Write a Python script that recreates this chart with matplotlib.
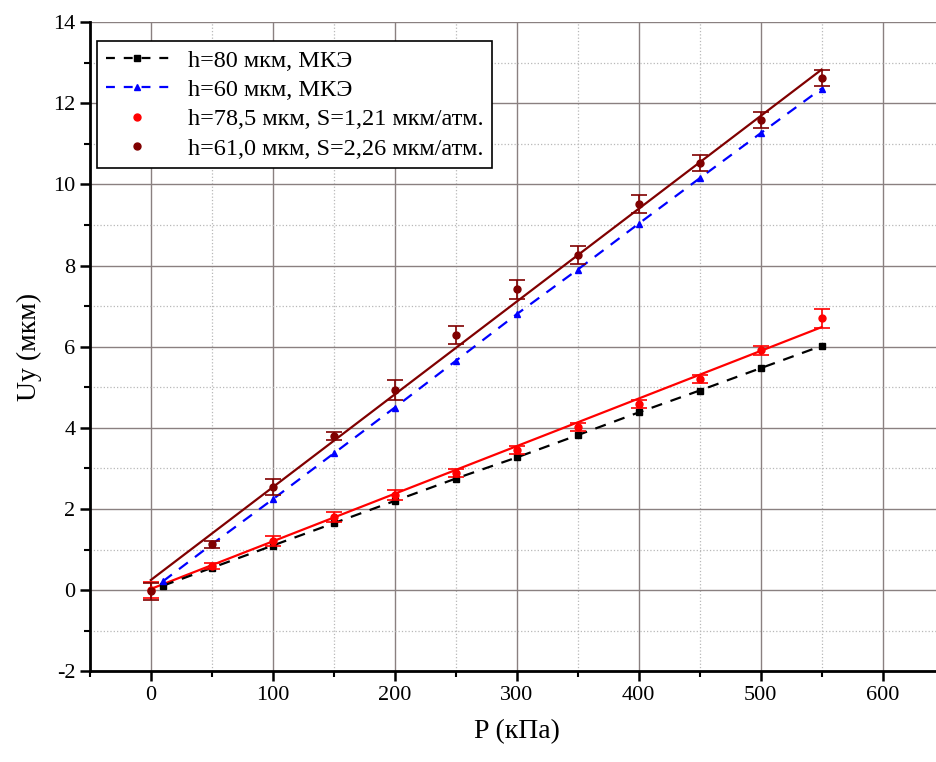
import numpy as np
import matplotlib
matplotlib.use('Agg')
import matplotlib.pyplot as plt
from matplotlib.ticker import MultipleLocator
from matplotlib.lines import Line2D

plt.rcParams['font.family'] = ['Liberation Serif', 'DejaVu Serif']
plt.rcParams['axes.unicode_minus'] = False

# МКЭ расчёт
p_fem = [10, 50, 100, 150, 200, 250, 300, 350, 400, 450, 500, 550]
u_fem80 = [0.11, 0.55, 1.10, 1.65, 2.20, 2.75, 3.27, 3.82, 4.38, 4.92, 5.47, 6.02]
u_fem60 = [0.22, 1.13, 2.24, 3.37, 4.50, 5.65, 6.80, 7.90, 9.03, 10.15, 11.26, 12.36]

# эксперимент
p_exp = [0, 50, 100, 150, 200, 250, 300, 350, 400, 450, 500, 550]
u_exp78 = [0.0, 0.59, 1.22, 1.80, 2.35, 2.88, 3.45, 4.03, 4.58, 5.20, 5.91, 6.70]
err_exp78 = [0.2, 0.08, 0.12, 0.12, 0.12, 0.1, 0.1, 0.1, 0.1, 0.1, 0.11, 0.24]
u_exp61 = [-0.03, 1.13, 2.54, 3.79, 4.93, 6.28, 7.41, 8.25, 9.52, 10.52, 11.58, 12.62]
err_exp61 = [0.2, 0.08, 0.2, 0.1, 0.25, 0.22, 0.23, 0.22, 0.22, 0.2, 0.2, 0.2]

# линейные аппроксимации (начало, наклон)
fit78 = (0.03, 0.01173)
fit61 = (0.25, 0.02287)

fig = plt.figure(figsize=(9.36, 7.62), dpi=100)
ax = fig.add_axes([0.096, 0.119, 0.912, 0.852])

ax.set_xlim(-50, 650)
ax.set_ylim(-2, 14)
ax.xaxis.set_major_locator(MultipleLocator(100))
ax.xaxis.set_minor_locator(MultipleLocator(50))
ax.yaxis.set_major_locator(MultipleLocator(2))
ax.yaxis.set_minor_locator(MultipleLocator(1))

ax.grid(which='major', color='#8a8080', lw=1.0, ls='-')
ax.grid(which='minor', color='#b8b8b8', lw=0.9, ls=':')
ax.set_axisbelow(True)

for s in ['top', 'right']:
    ax.spines[s].set_visible(False)
for s in ['left', 'bottom']:
    ax.spines[s].set_linewidth(2)
ax.tick_params(which='major', direction='out', length=7, width=1.8, labelsize=16)
ax.tick_params(which='minor', direction='out', length=4, width=1.5)

pp = np.array([0, 550])
ax.plot(pp, fit78[0] + fit78[1] * pp, color='#ff0000', lw=1.6, zorder=3)
ax.plot(pp, fit61[0] + fit61[1] * pp, color='#800000', lw=1.6, zorder=3)

ax.plot(p_fem, u_fem80, color='black', ls=(0, (5, 4)), lw=1.6, marker='s', ms=5, zorder=4)
ax.plot(p_fem, u_fem60, color='#0000ff', ls=(0, (5, 4)), lw=1.6, marker='^', ms=5, zorder=4)

ax.errorbar(p_exp, u_exp78, yerr=err_exp78, fmt='o', color='#ff0000', ms=5,
            elinewidth=1.2, capsize=6, capthick=1.2, zorder=5)
ax.errorbar(p_exp, u_exp61, yerr=err_exp61, fmt='o', color='#800000', ms=5,
            elinewidth=1.2, capsize=6, capthick=1.2, zorder=5)

handles = [
    Line2D([], [], color='black', ls=(0, (4, 4)), lw=1.6, marker='s', ms=5),
    Line2D([], [], color='#0000ff', ls=(0, (4, 4)), lw=1.6, marker='^', ms=5),
    Line2D([], [], color='#ff0000', ls='none', marker='o', ms=5),
    Line2D([], [], color='#800000', ls='none', marker='o', ms=5),
]
labels = ['h=80 мкм, МКЭ', 'h=60 мкм, МКЭ',
          'h=78,5 мкм, S=1,21 мкм/атм.', 'h=61,0 мкм, S=2,26 мкм/атм.']
leg = ax.legend(handles, labels, loc='upper left', bbox_to_anchor=(0.0, 0.982), fontsize=17.5,
                frameon=True, fancybox=False, edgecolor='black', framealpha=1,
                handlelength=2.6, handletextpad=0.8, borderpad=0.35, labelspacing=0.3,
                borderaxespad=0.3)
leg.get_frame().set_linewidth(1.2)

ax.set_xlabel('P (кПа)', fontsize=20, labelpad=10)
ax.set_ylabel('Uy (мкм)', fontsize=20, labelpad=8)

fig.savefig('out.png', dpi=100)
